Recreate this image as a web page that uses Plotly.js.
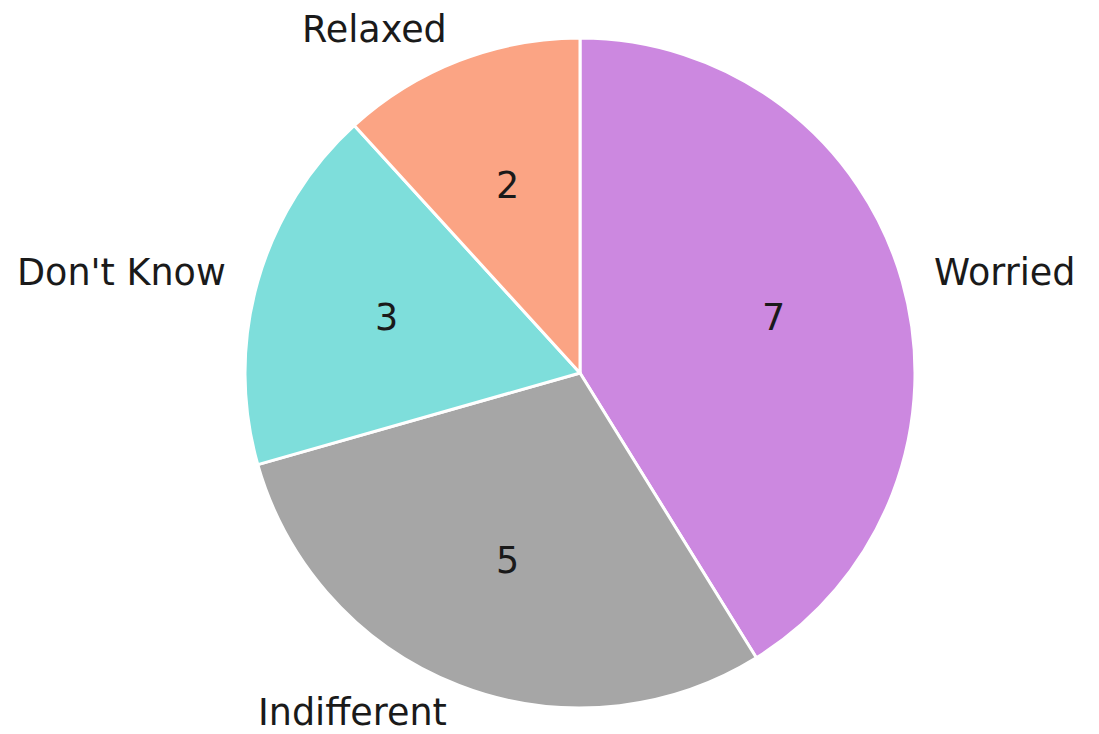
<!DOCTYPE html>
<html>
<head>
<meta charset="utf-8">
<script src="https://cdn.plot.ly/plotly-3.0.1.min.js"></script>
<style>html,body{margin:0;padding:0;background:#fff;}#chart{width:1099px;height:734px;}</style>
</head>
<body>
<div id="chart"></div>
<script>
const categories = ["Worried", "Indifferent", "Don't Know", "Relaxed"];
const values = [7, 5, 3, 2];
const colors = ["#CC88E0", "#A6A6A6", "#7EDEDB", "#FBA484"];

const W = 1099, H = 734;
const cx = 580, cy = 373, R = 335;
const domX = [(cx - R) / W, (cx + R) / W];
const domY = [1 - (cy + R) / H, 1 - (cy - R) / H];

const total = values.reduce((a, b) => a + b, 0);
const annotations = [];
let cum = 0;
const FS = 36.5;
const fnt = {family: "DejaVu Sans", size: FS, color: "#1a1a1a"};
values.forEach((v, i) => {
  const midFrac = (cum + v / 2) / total;
  cum += v;
  const ang = (90 - midFrac * 360) * Math.PI / 180;
  const c = Math.cos(ang), s = Math.sin(ang);
  // category label at 1.1 R
  const lx = cx + 1.1 * R * c, ly = cy - 1.1 * R * s;
  const half = FS * 0.62;
  let ya = "middle", yy = 1 - ly / H;
  if (ly + half > H) { ya = "bottom"; yy = 0; }
  else if (ly - half < 0) { ya = "top"; yy = 1; }
  annotations.push({
    x: lx / W, y: yy, xref: "paper", yref: "paper",
    text: categories[i], showarrow: false,
    xanchor: c >= 0 ? "left" : "right", yanchor: ya,
    font: fnt, borderpad: 0, borderwidth: 0
  });
  // value at 0.6 R
  const vx = cx + 0.6 * R * c, vy = cy - 0.6 * R * s;
  annotations.push({
    x: vx / W, y: 1 - vy / H, xref: "paper", yref: "paper",
    text: String(values[i]), showarrow: false,
    xanchor: "center", yanchor: "middle",
    font: fnt, borderpad: 0, borderwidth: 0
  });
});

const data = [{
  type: "pie",
  labels: categories,
  values: values,
  sort: false,
  direction: "clockwise",
  rotation: 0,
  textinfo: "none",
  hoverinfo: "label+value",
  marker: {colors: colors, line: {color: "#ffffff", width: 3}},
  domain: {x: domX, y: domY},
  showlegend: false
}];

const layout = {
  width: W, height: H,
  margin: {l: 0, r: 0, t: 0, b: 0},
  paper_bgcolor: "#ffffff",
  plot_bgcolor: "#ffffff",
  showlegend: false,
  annotations: annotations
};

Plotly.newPlot("chart", data, layout, {displayModeBar: false, staticPlot: true});
</script>
</body>
</html>
